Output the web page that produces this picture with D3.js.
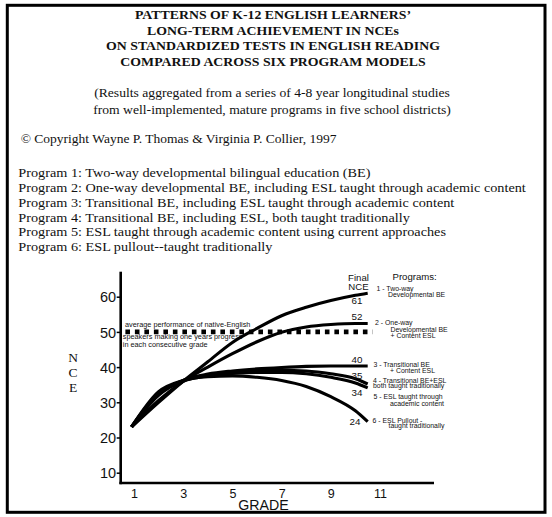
<!DOCTYPE html>
<html>
<head>
<meta charset="utf-8">
<script src="https://cdn.jsdelivr.net/npm/d3@7/dist/d3.min.js"></script>
<style>
  html, body { margin: 0; padding: 0; background: #fff; }
  svg { display: block; }
</style>
</head>
<body>
<svg id="chart" width="552" height="517"></svg>
<script>
// ---------------- DATA ----------------
const titleLines = [
  "PATTERNS OF K-12 ENGLISH LEARNERS\u2019",
  "LONG-TERM ACHIEVEMENT IN NCEs",
  "ON STANDARDIZED TESTS IN ENGLISH READING",
  "COMPARED ACROSS SIX PROGRAM MODELS"
];
const subtitleLines = [
  "(Results aggregated from a series of 4-8 year longitudinal studies",
  "from well-implemented, mature programs in five school districts)"
];
const copyright = "\u00A9 Copyright Wayne P. Thomas & Virginia P. Collier, 1997";
const programDescriptions = [
  "Program 1: Two-way developmental bilingual education (BE)",
  "Program 2: One-way developmental BE, including ESL taught through academic content",
  "Program 3: Transitional BE, including ESL taught through academic content",
  "Program 4: Transitional BE, including ESL, both taught traditionally",
  "Program 5: ESL taught through academic content using current approaches",
  "Program 6: ESL pullout--taught traditionally"
];

const grades = [0.9, 2, 3, 4, 5, 6, 7, 8, 9, 10, 10.5];
const program1 = [23, 30, 36, 41.5, 47, 51, 54.6, 57, 58.9, 60.4, 61];
const program2 = [23, 30.5, 36, 40, 43.8, 47.2, 49.9, 51.4, 52.1, 52.4, 52.4];
const program3 = [23, 32, 36.2, 38, 38.9, 39.5, 39.9, 40.2, 40.3, 40.3, 40.3];
const program4 = [23, 32.5, 36.2, 37.7, 38.5, 39, 39.1, 38.9, 38.1, 36.7, 35.2];
const program5 = [23, 32.5, 36, 37.5, 38.2, 38.5, 38.5, 38.1, 37.1, 35.5, 34.1];
const program6 = [23, 33, 36.2, 37.3, 37.5, 37.1, 36.2, 34.5, 31.6, 27.6, 24.5];
const seriesValues = [program1, program2, program3, program4, program5, program6];
const finalNCE = [61, 52, 40, 35, 34, 24];
const programLabels = [
  ["1 - Two-way", "Developmental BE"],
  ["2 - One-way", "Developmental BE", "+ Content ESL"],
  ["3 - Transitional BE", "+ Content ESL"],
  ["4 - Transitional BE+ESL", "both taught traditionally"],
  ["5 - ESL taught through", "academic content"],
  ["6 - ESL Pullout -", "taught traditionally"]
];

const yTicks = [10, 20, 30, 40, 50, 60];
const xTicks = [1, 3, 5, 7, 9, 11];
const benchmarkValue = 50;
const benchmarkGrades = [0.65, 10.7];
const benchmarkText = [
  "average performance of native-English",
  "speakers making one years progress",
  "in each consecutive grade"
];

// ---------------- DRAW ----------------
const svg = d3.select("#chart");
const SERIF = "'Liberation Serif', 'Times New Roman', serif";
const SANS = "'Liberation Sans', Arial, Helvetica, sans-serif";

// frame
svg.append("rect")
  .attr("x", 7.3).attr("y", 5.3)
  .attr("width", 537.7).attr("height", 507)
  .attr("fill", "none").attr("stroke", "#000").attr("stroke-width", 3);

// helper: place a text block with a common horizontal stretch
function stretchedBlock(lines, opts) {
  const g = svg.append("g");
  const texts = g.selectAll("text").data(lines).join("text")
    .text(d => d)
    .attr("font-family", opts.family)
    .attr("font-size", opts.size)
    .attr("font-weight", opts.weight || "normal")
    .attr("text-anchor", opts.anchor)
    .attr("fill", "#111");
  const refNode = texts.nodes()[opts.refIndex];
  const natural = refNode.getComputedTextLength();
  const sx = opts.refWidth / natural;
  texts.attr("transform", (d, i) =>
    `translate(${opts.x},${opts.y0 + i * opts.dy}) scale(${sx},1)`);
  return g;
}

stretchedBlock(titleLines, {
  family: SERIF, size: 12, weight: "bold", anchor: "middle",
  x: 273, y0: 19.3, dy: 15.5, refIndex: 2, refWidth: 334
});
stretchedBlock(subtitleLines, {
  family: SERIF, size: 12, anchor: "middle",
  x: 272, y0: 97, dy: 16.5, refIndex: 0, refWidth: 356
});
stretchedBlock([copyright], {
  family: SERIF, size: 12.2, anchor: "start",
  x: 20.7, y0: 142.6, dy: 0, refIndex: 0, refWidth: 316
});
stretchedBlock(programDescriptions, {
  family: SERIF, size: 12.8, anchor: "start",
  x: 18.3, y0: 176.8, dy: 14.9, refIndex: 4, refWidth: 428
});

// scales
const x = d3.scaleLinear().domain([1, 11]).range([134, 380]);
const y = d3.scaleLinear().domain([10, 60]).range([472.7, 296.7]);

// axes lines
const axisX0 = 120.7, axisYTop = 271.7, axisYBottom = 483, axisXRight = 434;
svg.append("line")
  .attr("x1", axisX0).attr("x2", axisX0)
  .attr("y1", axisYTop).attr("y2", axisYBottom + 1.2)
  .attr("stroke", "#000").attr("stroke-width", 2.6);
svg.append("line")
  .attr("x1", axisX0 - 1.3).attr("x2", axisXRight)
  .attr("y1", axisYBottom).attr("y2", axisYBottom)
  .attr("stroke", "#000").attr("stroke-width", 2.6);

// y axis ticks + labels
const yAxis = d3.axisLeft(y).tickValues(yTicks).tickSize(4).tickPadding(0.5).tickSizeOuter(0);
const gy = svg.append("g").attr("transform", `translate(${axisX0},0)`).call(yAxis);
gy.select(".domain").remove();
gy.selectAll(".tick line").attr("stroke", "#000").attr("stroke-width", 1.5);
gy.selectAll(".tick text")
  .attr("font-family", SANS).attr("font-size", 14.5).attr("fill", "#111")
  .attr("dy", "0.36em");

// x axis labels (no tick marks)
const xAxis = d3.axisBottom(x).tickValues(xTicks).tickSize(0).tickPadding(0).tickFormat(d3.format("d"));
const gx = svg.append("g").attr("transform", `translate(0,${axisYBottom})`).call(xAxis);
gx.select(".domain").remove();
gx.selectAll(".tick text")
  .attr("font-family", SANS).attr("font-size", 12.5).attr("fill", "#111")
  .attr("dy", 0).attr("y", 14.6);

svg.append("text")
  .text("GRADE")
  .attr("x", 263.5).attr("y", 509.8)
  .attr("text-anchor", "middle")
  .attr("font-family", SANS).attr("font-size", 14.2).attr("fill", "#111");

// NCE vertical label
svg.append("g").selectAll("text").data(["N", "C", "E"]).join("text")
  .text(d => d)
  .attr("x", 73).attr("y", (d, i) => 362 + i * 15)
  .attr("text-anchor", "middle")
  .attr("font-family", SERIF).attr("font-size", 13.5).attr("fill", "#111");

// benchmark dashed line
svg.append("line")
  .attr("x1", x(benchmarkGrades[0])).attr("x2", x(benchmarkGrades[1]))
  .attr("y1", y(benchmarkValue)).attr("y2", y(benchmarkValue))
  .attr("stroke", "#000").attr("stroke-width", 4.6)
  .attr("stroke-dasharray", "4.6,4.9");

// benchmark annotation
const bt = svg.append("g");
[[125, 326.6], [122.8, 339.3], [122.8, 346.8]].forEach((p, i) => {
  bt.append("text").text(benchmarkText[i])
    .attr("x", p[0]).attr("y", p[1])
    .attr("font-family", SANS).attr("font-size", 7.3).attr("fill", "#111");
});

// program curves
const line = d3.line()
  .x((d, i) => x(grades[i]))
  .y(d => y(d))
  .curve(d3.curveMonotoneX);

svg.append("g").selectAll("path").data(seriesValues).join("path")
  .attr("d", d => line(d))
  .attr("fill", "none")
  .attr("stroke", "#000")
  .attr("stroke-width", 3.1)
  .attr("stroke-linecap", "butt");

// final NCE header
svg.append("g").selectAll("text").data(["Final", "NCE"]).join("text")
  .text(d => d)
  .attr("x", 358.5).attr("y", (d, i) => 280.5 + i * 9.6)
  .attr("text-anchor", "middle")
  .attr("font-family", SANS).attr("font-size", 9.6).attr("fill", "#111");
svg.append("text").text("Programs:")
  .attr("x", 392.5).attr("y", 280.3)
  .attr("font-family", SANS).attr("font-size", 9.6).attr("fill", "#111");

// final NCE numbers (offset from line end)
const numOffsets = [11.2, -3, -3, -4.8, 8, 3.8];
const numX = [357, 357, 357, 357, 357, 355];
svg.append("g").selectAll("text").data(finalNCE).join("text")
  .text(d => d)
  .attr("x", (d, i) => numX[i])
  .attr("y", (d, i) => y(seriesValues[i][seriesValues[i].length - 1]) + numOffsets[i])
  .attr("text-anchor", "middle")
  .attr("font-family", SANS).attr("font-size", 9.8).attr("fill", "#111");

// program labels
const labelPos = [
  [[376.5, 291], [388, 296.7]],
  [[375, 325], [390.5, 331.5], [390.5, 338]],
  [[373.5, 367.2], [390, 373]],
  [[373, 382.6], [373, 388.2]],
  [[373.5, 399.2], [390, 405.8]],
  [[372.5, 422.6], [388.5, 428.4]]
];
const pl = svg.append("g");
programLabels.forEach((lines, i) => {
  lines.forEach((t, j) => {
    pl.append("text").text(t)
      .attr("x", labelPos[i][j][0]).attr("y", labelPos[i][j][1])
      .attr("font-family", SANS).attr("font-size", 6.9).attr("fill", "#111");
  });
});
</script>
</body>
</html>
